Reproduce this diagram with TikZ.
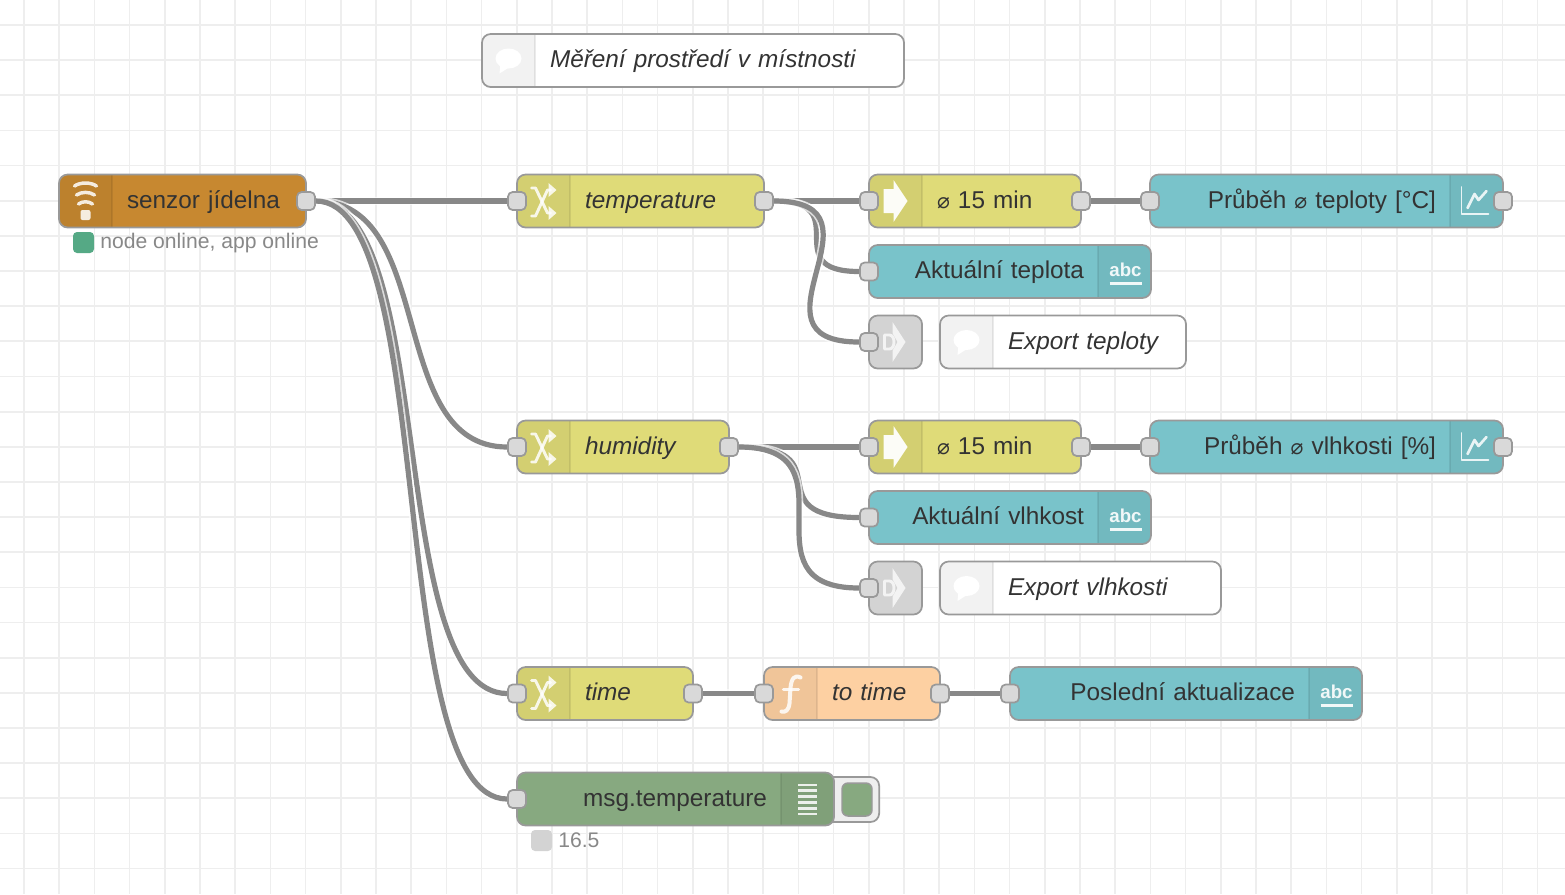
\documentclass[tikz,border=0pt]{standalone}
\usepackage{fontspec}
\setmainfont{Liberation Sans}
\newfontfamily\symfont{DejaVu Sans}
\definecolor{gridc}{HTML}{EEEEEE}
\definecolor{wirec}{HTML}{888888}
\definecolor{edgec}{HTML}{999999}
\definecolor{portc}{HTML}{D9D9D9}
\definecolor{textc}{HTML}{333333}
\definecolor{statc}{HTML}{888888}
\definecolor{wific}{HTML}{C78830}
\definecolor{yellowc}{HTML}{DFDB78}
\definecolor{tealc}{HTML}{79C3CA}
\definecolor{peachc}{HTML}{FDD0A2}
\definecolor{greenc}{HTML}{87A980}
\definecolor{grayc}{HTML}{D3D3D3}
\definecolor{onlinec}{HTML}{55A985}
\def\panelc{19.875pt}
\pgfdeclarelayer{gridlayer}
\pgfdeclarelayer{wirelayer}
\pgfsetlayers{gridlayer,wirelayer,main}
\newcommand{\dia}{{\symfont\fontsize{16}{18}\selectfont ⌀}}
\newcommand{\rtx}[1]{\llap{#1\kern-.75pt}}
\tikzset{
  gridline/.style={draw=gridc, line width=1.3pt},
  wire/.style={draw=wirec, line width=3.9pt, preaction={draw=white, draw opacity=.7, line width=6.4pt}},
  flowbox/.style={draw=edgec, fill=#1, line width=1.3pt, rounded corners=6.5pt, outer sep=0pt,
    minimum height=39.75pt, inner xsep=51pt, inner ysep=0pt, anchor=west, text=textc,
    text height=14pt, text depth=3.5pt, font=\fontsize{18.25}{22}\selectfont},
  italictext/.style={font=\fontsize{18.25}{22}\selectfont\itshape},
  boxw/.code={\pgfmathsetlengthmacro\boxtw{(#1-136)*0.75pt}\tikzset{text width=\boxtw}},
  panelleft/.style={align=left, path picture={
    \fill[sharp corners, black, fill opacity=.05] (path picture bounding box.north west) rectangle ([xshift=39.75pt]path picture bounding box.south west);
    \draw[sharp corners, black, draw opacity=.08, line width=1.1pt] ([xshift=39.75pt]path picture bounding box.north west) -- ([xshift=39.75pt]path picture bounding box.south west);}},
  panelright/.style={align=right, path picture={
    \fill[sharp corners, black, fill opacity=.05] (path picture bounding box.north east) rectangle ([xshift=-39.75pt]path picture bounding box.south east);
    \draw[sharp corners, black, draw opacity=.08, line width=1.1pt] ([xshift=-39.75pt]path picture bounding box.north east) -- ([xshift=-39.75pt]path picture bounding box.south east);}},
  squarebox/.style={draw=edgec, fill=#1, line width=1.3pt, rounded corners=6.5pt, outer sep=0pt,
    minimum width=39.75pt, minimum height=39.75pt, inner sep=0pt, anchor=west},
  port/.style={draw=edgec, fill=portc, line width=1.3pt, rounded corners=3.5pt,
    minimum size=13.5pt, inner sep=0pt},
  statdot/.style={fill=#1, rounded corners=3pt, minimum size=15.75pt, inner sep=0pt},
  stattext/.style={text=statc, anchor=west, inner sep=0pt, font=\fontsize{15.85}{20}\selectfont},
  iconline/.style={draw=white, draw opacity=.85, line cap=round, line join=round},
  iconfill/.style={fill=white, fill opacity=.85},
  wifiicon/.pic={
    \draw[iconline, line width=2.6pt] (-11,-15) .. controls (-5,-19) and (5,-19) .. (11,-15);
    \draw[iconline, line width=2.6pt] (-9,-6) .. controls (-4,-9.5) and (4,-9.5) .. (9,-6);
    \draw[iconline, line width=2.6pt] (-7,3) .. controls (-3,0) and (3,0) .. (7,3);
    \fill[iconfill, rounded corners=1.5pt] (-5,9) rectangle (5,19);},
  switchicon/.pic={
    \draw[iconline, line width=2.2pt] (-12,-13) -- (-8,-13) -- (4,12) -- (7,12);
    \draw[iconline, line width=2.2pt] (-12,15) -- (-8,15) -- (4,-11) -- (7,-11);
    \fill[iconfill] (5,-18) -- (13,-11) -- (5,-4) -- cycle;
    \fill[iconfill] (5,5) -- (13,12) -- (5,19) -- cycle;},
  delayicon/.pic={
    \fill[iconfill, fill opacity=.95] (-12,-12) -- (-2,-12) -- (-2,-21) -- (12,0) -- (-2,21) -- (-2,12) -- (-12,12) -- cycle;},
  linkicon/.pic={
    \fill[iconfill, fill opacity=.75] (-3,-20) -- (10,0) -- (-3,20) -- (-3,9) -- (2,0) -- (-3,-9) -- cycle;
    \draw[iconline, draw opacity=.75, line width=2.2pt] (-11,-7) -- (-6,-7) .. controls (0,-7) and (0,7) .. (-6,7) -- (-11,7) -- cycle;},
  bubbleicon/.pic={
    \fill[white] (0,-2) ellipse [x radius=13, y radius=10];
    \fill[white] (-8,3) -- (-9,13) -- (2,6) -- cycle;},
  chartrun/.pic={
    \draw[iconline, line width=1.3pt] (-15,-14) -- (-15,13) -- (12,13);
    \draw[iconline, line width=2pt] (-9,7) -- (-2,-7) -- (2,-1) -- (10,-10);},
  listicon/.pic={
    \foreach \ly in {-14,-8.2,-2.4,3.4,9.2,15}
      \draw[draw=white, draw opacity=.85, line width=2.2pt] (-9.5,\ly) -- (9.5,\ly);},
  funcicon/.pic={
    \draw[iconline, line width=3pt] (10,-16) .. controls (4,-19) and (1,-15) .. (0,-6) -- (-1,10) .. controls (-2,17) and (-5,19) .. (-9,18);
    \draw[iconline, line width=2.4pt] (-7,-4) -- (8,-4);},
  abcicon/.pic={
    \node[text=white, text opacity=.9, font=\fontsize{14}{16}\selectfont\bfseries, inner sep=0pt] (abc) at (1,-2) {abc};
    \draw[draw=white, draw opacity=.9, line width=2.2pt] (-15,12) -- (17,12);},
}
\newcommand{\wirecurve}[3][132]{\draw[wire] (#2) .. controls +(#1,0) and +(-#1,0) .. (#3);}
\begin{document}
\begin{tikzpicture}[x=0.75pt, y=-0.75pt, line join=round]
	\useasboundingbox (0,0) rectangle (1565,894);
	\begin{pgfonlayer}{gridlayer}
		\fill[white] (0,0) rectangle (1565,894);
		\foreach \gx in {0,...,43} \draw[gridline] ({24+35.2*\gx},0) -- ++(0,894);
		\foreach \gy in {0,...,24} \draw[gridline] (0,{25+35.15*\gy}) -- ++(1565,0);
	\end{pgfonlayer}

	\node[flowbox=white, boxw=422, panelleft, italictext] (titlecomment) at (482,60.5) {\rlap{Měření prostředí v místnosti}};
	\pic at ([xshift=\panelc]titlecomment.west) {bubbleicon};

	% senzor
	\node[flowbox=wific, boxw=247, panelleft] (senzor) at (59,201) {\rlap{senzor jídelna}};
	\pic at ([xshift=\panelc]senzor.west) {wifiicon};
	\node[statdot=onlinec] (senzordot) at (83.5,242.5) {};
	\node[stattext] (senzorstat) at (100,243.5) {node online, app online};

	% teplota
	\node[flowbox=yellowc, boxw=247, panelleft, italictext] (temp) at (517,201) {\rlap{temperature}};
	\node[flowbox=yellowc, boxw=212, panelleft] (tempavg) at (869,201) {\rlap{\dia{} 15 min}};
	\node[flowbox=tealc, boxw=353, panelright] (tempchart) at (1150,201) {\rtx{Průběh \dia{} teploty [°C]}};
	\node[flowbox=tealc, boxw=282, panelright] (temptext) at (869,271.5) {\rtx{Aktuální teplota}};
	\node[squarebox=grayc] (templink) at (869,342) {};
	\node[flowbox=white, boxw=246, panelleft, italictext] (tempcomment) at (940,342) {\rlap{Export teploty}};
	\pic at ([xshift=\panelc]temp.west) {switchicon};
	\pic at ([xshift=\panelc]tempavg.west) {delayicon};
	\pic at ([xshift=-\panelc]tempchart.east) {chartrun};
	\pic at ([xshift=-\panelc]temptext.east) {abcicon};
	\pic at ([xshift=\panelc]templink.west) {linkicon};
	\pic at ([xshift=\panelc]tempcomment.west) {bubbleicon};

	% vlhkost
	\node[flowbox=yellowc, boxw=212, panelleft, italictext] (humi) at (517,447) {\rlap{humidity}};
	\node[flowbox=yellowc, boxw=212, panelleft] (humiavg) at (869,447) {\rlap{\dia{} 15 min}};
	\node[flowbox=tealc, boxw=353, panelright] (humichart) at (1150,447) {\rtx{Průběh \dia{} vlhkosti [\%]}};
	\node[flowbox=tealc, boxw=282, panelright] (humitext) at (869,517.5) {\rtx{Aktuální vlhkost}};
	\node[squarebox=grayc] (humilink) at (869,588) {};
	\node[flowbox=white, boxw=281, panelleft, italictext] (humicomment) at (940,588) {\rlap{Export vlhkosti}};
	\pic at ([xshift=\panelc]humi.west) {switchicon};
	\pic at ([xshift=\panelc]humiavg.west) {delayicon};
	\pic at ([xshift=-\panelc]humichart.east) {chartrun};
	\pic at ([xshift=-\panelc]humitext.east) {abcicon};
	\pic at ([xshift=\panelc]humilink.west) {linkicon};
	\pic at ([xshift=\panelc]humicomment.west) {bubbleicon};

	% cas
	\node[flowbox=yellowc, boxw=176, panelleft, italictext] (timeswitch) at (517,693.5) {\rlap{time}};
	\node[flowbox=peachc, boxw=176, panelleft, italictext] (totime) at (764,693.5) {\rlap{to time}};
	\node[flowbox=tealc, boxw=352, panelright] (timetext) at (1010,693.5) {\rtx{Poslední aktualizace}};
	\pic at ([xshift=\panelc]timeswitch.west) {switchicon};
	\pic at ([xshift=\panelc]totime.west) {funcicon};
	\pic at ([xshift=-\panelc]timetext.east) {abcicon};

	% debug
	\node[draw=edgec, fill=gridc, line width=1.3pt, rounded corners=6.5pt, minimum width=45pt, minimum height=33.75pt, inner sep=0pt, anchor=east] (debugtab) at (880,799.5) {};
	\node[draw=edgec, fill=greenc, line width=1.1pt, rounded corners=4.5pt, minimum width=22.5pt, minimum height=24.75pt, inner sep=0pt] (debugbtn) at (857,799.5) {};
	\node[flowbox=greenc, boxw=317, panelright] (debug) at (517,799) {\rtx{msg.temperature}};
	\pic at ([xshift=-\panelc]debug.east) {listicon};
	\node[statdot=grayc] (debugdot) at (541.5,840.5) {};
	\node[stattext] (debugstat) at (558,840.5) {16.5};

	% porty
	\foreach \pname/\pat in {senzorout/senzor.east, tempin/temp.west, tempout/temp.east, tempavgin/tempavg.west, tempavgout/tempavg.east,
		tempchartin/tempchart.west, tempchartout/tempchart.east, temptextin/temptext.west, templinkin/templink.west,
		humiin/humi.west, humiout/humi.east, humiavgin/humiavg.west, humiavgout/humiavg.east,
		humichartin/humichart.west, humichartout/humichart.east, humitextin/humitext.west, humilinkin/humilink.west,
		timein/timeswitch.west, timeout/timeswitch.east, totimein/totime.west, totimeout/totime.east, timetextin/timetext.west, debugin/debug.west}
		\node[port] (\pname) at (\pat) {};

	\begin{pgfonlayer}{wirelayer}
		\wirecurve{senzorout}{tempin}
		\wirecurve{senzorout}{humiin}
		\wirecurve{senzorout}{timein}
		\wirecurve{senzorout}{debugin}
		\wirecurve[94]{tempout}{tempavgin}
		\wirecurve[94]{tempout}{temptextin}
		\wirecurve{tempout}{templinkin}
		\wirecurve[94]{tempavgout}{tempchartin}
		\wirecurve{humiout}{humiavgin}
		\wirecurve[117]{humiout}{humitextin}
		\wirecurve{humiout}{humilinkin}
		\wirecurve[94]{humiavgout}{humichartin}
		\wirecurve[94]{timeout}{totimein}
		\wirecurve[94]{totimeout}{timetextin}
	\end{pgfonlayer}
\end{tikzpicture}
\end{document}
